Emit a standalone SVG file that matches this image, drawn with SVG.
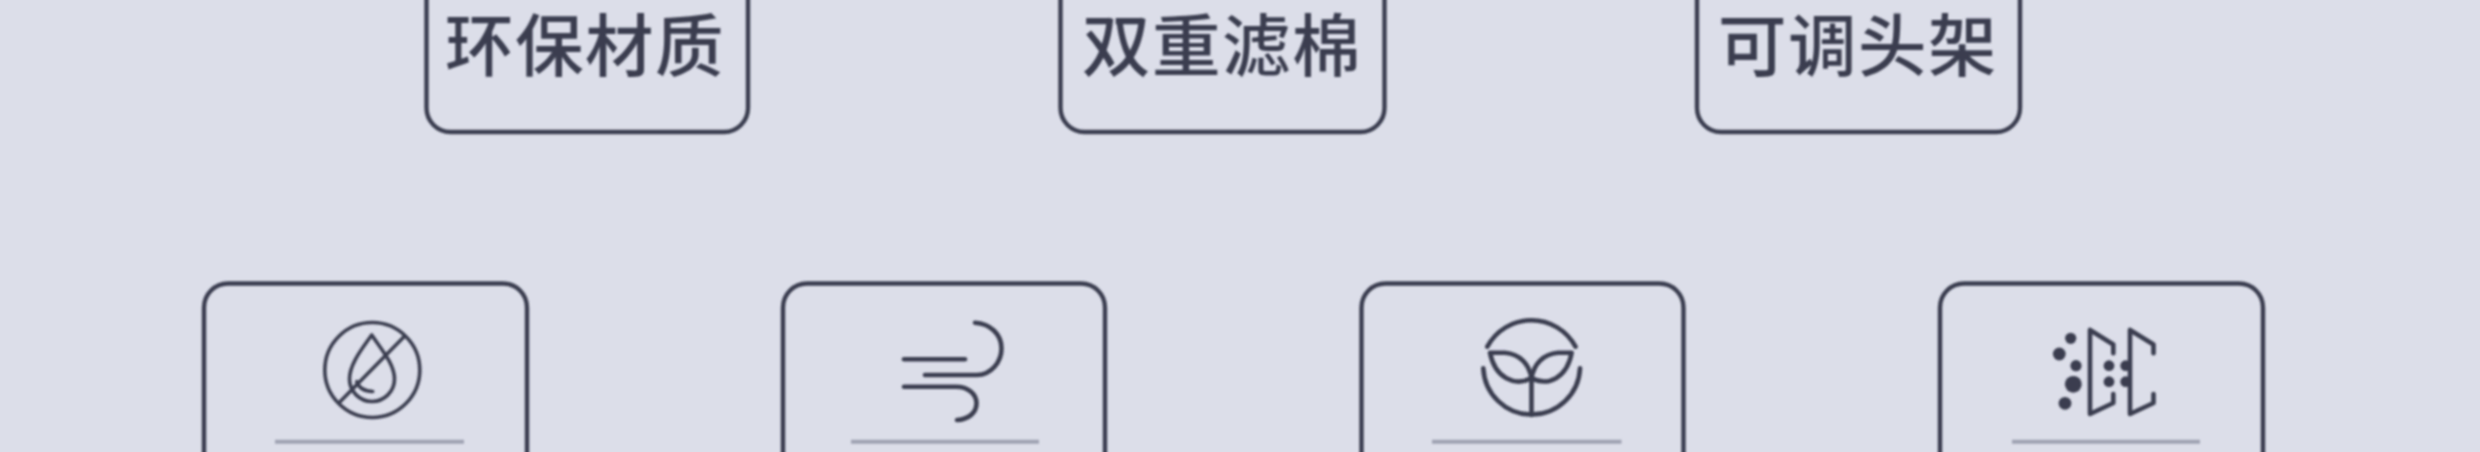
<svg xmlns="http://www.w3.org/2000/svg" width="2480" height="452" viewBox="0 0 2480 452">
<defs>
<style>
.box{fill:none;stroke:#3a3e4f;stroke-width:4.4}
.label{font-family:"Noto Sans CJK SC","Noto Sans",sans-serif;font-size:68.5px;font-weight:500;fill:#3a3e4f;text-anchor:middle;letter-spacing:1.5px}
.rule{stroke:#9fa2b2;stroke-width:4;fill:none}
.ico{fill:none;stroke:#3a3e4f;stroke-width:3.6;stroke-linecap:round;stroke-linejoin:round}
.ico2{fill:none;stroke:#3a3e4f;stroke-width:4.6;stroke-linecap:round;stroke-linejoin:round}
.dot{fill:#3a3e4f}
</style>
<filter id="soft" x="-2%" y="-10%" width="104%" height="120%"><feGaussianBlur stdDeviation="0.9"/></filter>
</defs>
<rect width="2480" height="452" fill="#dcdee9"/>
<g filter="url(#soft)">
<g id="tag-material">
<rect class="box" x="426.5" y="-60" width="321.5" height="192" rx="24"/>
<text class="label" x="585" y="70.5">环保材质</text>
</g>
<g id="tag-filter">
<rect class="box" x="1060.5" y="-60" width="324" height="192" rx="24"/>
<text class="label" x="1222" y="70.5">双重滤棉</text>
</g>
<g id="tag-headrest">
<rect class="box" x="1697" y="-60" width="323" height="192" rx="24"/>
<text class="label" x="1858" y="70.5">可调头架</text>
</g>
<g id="card-nodrop">
<rect class="box" x="204" y="283.5" width="323" height="240" rx="24"/>
<circle class="ico" cx="372.3" cy="370" r="47.5"/>
<path class="ico" d="M371.7 335C362 349 349.5 364 349.5 379A22.5 22.5 0 0 0 394.5 379C394.5 364 381 349 371.7 335Z"/>
<path class="ico" d="M340 401.7L404 336.7"/>
<path class="ico" d="M356.7 381.7C359 388 365 391.5 372.7 391.5"/>
<line class="rule" x1="275" y1="441.7" x2="464" y2="441.7"/>
</g>
<g id="card-wind">
<rect class="box" x="783" y="283.5" width="322" height="240" rx="24"/>
<path class="ico2" d="M904 359.3H965"/>
<path class="ico2" d="M925 375H977C991 375 1001.5 362 1001.5 348.5C1001.5 334 990 323.5 975 322.7"/>
<path class="ico2" d="M904 386.7H956C968 386.7 976.5 394 976.5 403.5C976.5 413 968 419.5 957 420"/>
<line class="rule" x1="851" y1="441.7" x2="1039" y2="441.7"/>
</g>
<g id="card-leaf">
<rect class="box" x="1361.5" y="283.5" width="322" height="240" rx="24"/>
<path class="ico2" d="M1487.3 346.7A50 50 0 0 1 1575.5 346.7"/>
<path class="ico2" d="M1483.3 368.3A48.4 48.4 0 0 0 1580 368.3"/>
<path class="ico2" d="M1490 352.7H1505C1520 354 1529 364 1531.5 378C1515 387 1495 378 1490 352.7Z"/>
<path class="ico2" d="M1571.7 352.7H1558C1543 354 1534 364 1531.5 378C1548 387 1567 378 1571.7 352.7Z"/>
<path class="ico2" d="M1531.5 378V415"/>
<line class="rule" x1="1432" y1="441.7" x2="1621.5" y2="441.7"/>
</g>
<g id="card-particles">
<rect class="box" x="1940" y="283.5" width="323" height="240" rx="24"/>
<circle class="dot" cx="2070.7" cy="338.3" r="5.6"/>
<circle class="dot" cx="2059.3" cy="354" r="6.4"/>
<circle class="dot" cx="2076" cy="365.7" r="5.6"/>
<circle class="dot" cx="2073.3" cy="384.3" r="8.4"/>
<circle class="dot" cx="2065" cy="403.3" r="6.4"/>
<circle class="dot" cx="2109" cy="365.7" r="5.4"/>
<circle class="dot" cx="2109" cy="381.7" r="5.4"/>
<circle class="dot" cx="2125.7" cy="365.7" r="5.4"/>
<circle class="dot" cx="2125.7" cy="381.7" r="5.4"/>
<path class="ico2" d="M2113.3 353.3V344.5L2090 330V414L2113.3 403V394"/>
<path class="ico2" d="M2153.5 353.3V344.5L2130 330V414L2153.5 403V394"/>
<line class="rule" x1="2012" y1="441.7" x2="2200" y2="441.7"/>
</g>
</g>
</svg>
